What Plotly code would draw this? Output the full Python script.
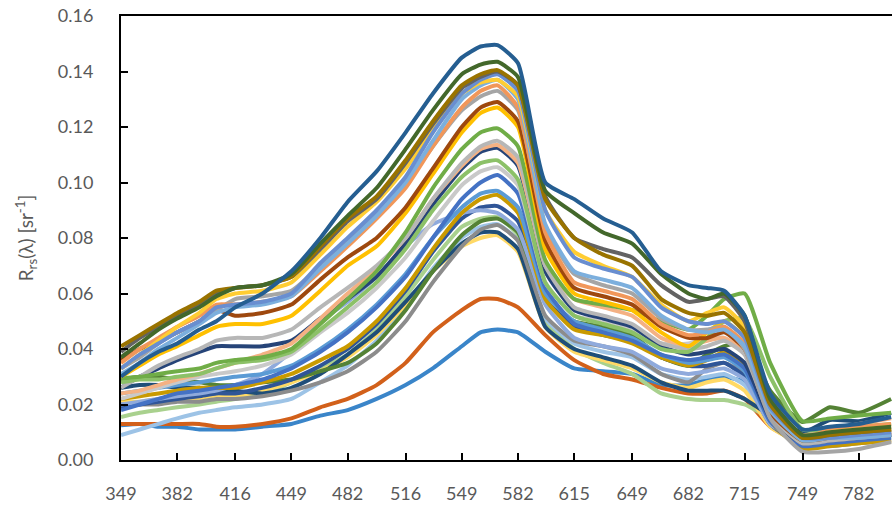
import plotly.graph_objects as go

# wavelength grid (nm)
wavelengths = [349, 360, 371, 382, 395, 405, 416, 432, 449, 466, 482, 499, 516, 532, 549, 560,
               570, 582, 598, 615, 632, 649, 666, 682, 693, 703, 715, 730, 749, 765, 782, 801]

tick_values = [349, 382, 416, 449, 482, 516, 549, 582, 615, 649, 682, 715, 749, 782]
tick_labels = ["349", "382", "416", "449", "482", "516", "549", "582", "615", "649", "682", "715", "749", "782"]
y_ticks = [0.00, 0.02, 0.04, 0.06, 0.08, 0.10, 0.12, 0.14, 0.16]

s01 = [0.030, 0.035, 0.039, 0.042, 0.047, 0.050, 0.055, 0.060, 0.068, 0.080, 0.093, 0.104, 0.118, 0.132, 0.145, 0.149,
       0.1495, 0.143, 0.100, 0.094, 0.087, 0.082, 0.068, 0.063, 0.062, 0.061, 0.052, 0.024, 0.011, 0.012, 0.013, 0.0155]
s02 = [0.037, 0.042, 0.047, 0.051, 0.055, 0.059, 0.062, 0.063, 0.067, 0.078, 0.088, 0.098, 0.112, 0.126, 0.139, 0.1425,
       0.1435, 0.138, 0.097, 0.089, 0.082, 0.078, 0.067, 0.060, 0.058, 0.060, 0.052, 0.022, 0.009, 0.010, 0.011, 0.012]
s03 = [0.041, 0.045, 0.049, 0.053, 0.057, 0.061, 0.062, 0.063, 0.066, 0.077, 0.087, 0.095, 0.108, 0.122, 0.135, 0.139,
       0.1405, 0.135, 0.094, 0.080, 0.074, 0.070, 0.058, 0.053, 0.052, 0.053, 0.046, 0.020, 0.008, 0.009, 0.010, 0.011]
s04 = [0.039, 0.044, 0.048, 0.052, 0.056, 0.060, 0.062, 0.063, 0.066, 0.076, 0.086, 0.094, 0.107, 0.121, 0.134, 0.138,
       0.140, 0.135, 0.095, 0.080, 0.076, 0.073, 0.063, 0.057, 0.058, 0.059, 0.050, 0.021, 0.008, 0.009, 0.010, 0.011]
s05 = [0.033, 0.038, 0.042, 0.046, 0.050, 0.055, 0.056, 0.057, 0.060, 0.071, 0.080, 0.090, 0.102, 0.118, 0.132, 0.137,
       0.139, 0.133, 0.090, 0.073, 0.069, 0.066, 0.055, 0.050, 0.049, 0.050, 0.044, 0.019, 0.008, 0.008, 0.009, 0.010]
s06 = [0.031, 0.035, 0.040, 0.044, 0.049, 0.053, 0.055, 0.056, 0.059, 0.069, 0.078, 0.088, 0.100, 0.115, 0.130, 0.135,
       0.137, 0.130, 0.085, 0.068, 0.065, 0.062, 0.052, 0.047, 0.046, 0.047, 0.041, 0.018, 0.007, 0.008, 0.008, 0.009]
s07 = [0.035, 0.040, 0.044, 0.048, 0.052, 0.056, 0.056, 0.057, 0.059, 0.068, 0.077, 0.087, 0.098, 0.113, 0.127, 0.133,
       0.135, 0.127, 0.082, 0.064, 0.061, 0.058, 0.049, 0.045, 0.046, 0.048, 0.042, 0.019, 0.008, 0.011, 0.012, 0.013]
s08 = [0.033, 0.037, 0.042, 0.046, 0.050, 0.054, 0.058, 0.059, 0.061, 0.070, 0.079, 0.088, 0.099, 0.113, 0.126, 0.131,
       0.133, 0.126, 0.084, 0.067, 0.063, 0.060, 0.051, 0.047, 0.047, 0.048, 0.040, 0.015, 0.003, 0.003, 0.004, 0.0065]
s09 = [0.036, 0.040, 0.043, 0.046, 0.050, 0.054, 0.052, 0.053, 0.056, 0.065, 0.073, 0.080, 0.091, 0.105, 0.120, 0.127,
       0.129, 0.122, 0.079, 0.062, 0.059, 0.056, 0.048, 0.044, 0.044, 0.046, 0.040, 0.017, 0.007, 0.008, 0.009, 0.010]
s10 = [0.030, 0.034, 0.038, 0.041, 0.045, 0.048, 0.049, 0.049, 0.052, 0.061, 0.070, 0.077, 0.089, 0.103, 0.118, 0.125,
       0.127, 0.120, 0.076, 0.060, 0.057, 0.054, 0.046, 0.041, 0.046, 0.050, 0.044, 0.018, 0.007, 0.009, 0.010, 0.011]
s11 = [0.033, 0.038, 0.043, 0.048, 0.053, 0.058, 0.060, 0.061, 0.064, 0.074, 0.084, 0.093, 0.105, 0.119, 0.132, 0.136,
       0.137, 0.131, 0.090, 0.075, 0.070, 0.066, 0.056, 0.050, 0.053, 0.055, 0.048, 0.020, 0.008, 0.010, 0.011, 0.012]
s12 = [0.0295, 0.030, 0.031, 0.032, 0.033, 0.035, 0.036, 0.037, 0.040, 0.049, 0.058, 0.068, 0.082, 0.098, 0.112, 0.118,
       0.1195, 0.113, 0.072, 0.058, 0.056, 0.054, 0.050, 0.047, 0.052, 0.058, 0.060, 0.035, 0.014, 0.015, 0.016, 0.017]
s13 = [0.026, 0.030, 0.034, 0.037, 0.040, 0.043, 0.044, 0.044, 0.047, 0.055, 0.062, 0.070, 0.080, 0.094, 0.107, 0.113,
       0.115, 0.109, 0.070, 0.055, 0.052, 0.049, 0.042, 0.040, 0.041, 0.043, 0.038, 0.016, 0.006, 0.007, 0.008, 0.009]
s14 = [0.024, 0.025, 0.027, 0.029, 0.031, 0.033, 0.035, 0.038, 0.042, 0.051, 0.060, 0.069, 0.080, 0.094, 0.106, 0.112,
       0.1135, 0.107, 0.070, 0.058, 0.055, 0.052, 0.044, 0.041, 0.043, 0.044, 0.039, 0.018, 0.009, 0.011, 0.013, 0.015]
s15 = [0.026, 0.030, 0.033, 0.036, 0.039, 0.041, 0.041, 0.041, 0.043, 0.051, 0.058, 0.066, 0.078, 0.092, 0.105, 0.111,
       0.1125, 0.106, 0.068, 0.054, 0.051, 0.048, 0.041, 0.038, 0.039, 0.040, 0.035, 0.015, 0.006, 0.007, 0.008, 0.009]
s16 = [0.022, 0.024, 0.026, 0.028, 0.030, 0.031, 0.032, 0.034, 0.038, 0.046, 0.053, 0.062, 0.073, 0.086, 0.099, 0.104,
       0.1055, 0.099, 0.064, 0.052, 0.050, 0.047, 0.042, 0.042, 0.044, 0.044, 0.038, 0.016, 0.006, 0.007, 0.008, 0.009]
s17 = [0.018, 0.020, 0.022, 0.024, 0.025, 0.026, 0.027, 0.029, 0.033, 0.039, 0.046, 0.055, 0.066, 0.080, 0.094, 0.100,
       0.1027, 0.096, 0.062, 0.049, 0.046, 0.043, 0.038, 0.036, 0.037, 0.038, 0.033, 0.014, 0.005, 0.006, 0.007, 0.008]
s18 = [0.022, 0.023, 0.024, 0.025, 0.026, 0.026, 0.026, 0.028, 0.031, 0.036, 0.041, 0.050, 0.062, 0.076, 0.089, 0.094,
       0.0955, 0.089, 0.058, 0.047, 0.045, 0.042, 0.037, 0.034, 0.036, 0.039, 0.034, 0.014, 0.004, 0.005, 0.006, 0.007]
s19 = [0.020, 0.021, 0.022, 0.023, 0.024, 0.025, 0.027, 0.031, 0.039, 0.050, 0.057, 0.066, 0.077, 0.085, 0.089, 0.090,
       0.089, 0.083, 0.056, 0.044, 0.041, 0.039, 0.033, 0.031, 0.032, 0.033, 0.029, 0.013, 0.007, 0.008, 0.009, 0.010]
s20 = [0.019, 0.020, 0.021, 0.022, 0.023, 0.024, 0.024, 0.026, 0.029, 0.034, 0.040, 0.049, 0.061, 0.075, 0.087, 0.091,
       0.0915, 0.086, 0.058, 0.048, 0.045, 0.043, 0.037, 0.034, 0.034, 0.035, 0.030, 0.013, 0.006, 0.007, 0.008, 0.009]
s21 = [0.0155, 0.017, 0.018, 0.019, 0.020, 0.021, 0.022, 0.024, 0.028, 0.033, 0.038, 0.047, 0.059, 0.072, 0.084, 0.087,
       0.0875, 0.081, 0.050, 0.040, 0.035, 0.031, 0.024, 0.022, 0.0216, 0.0216, 0.020, 0.015, 0.010, 0.0075, 0.0075, 0.0085]
s22 = [0.029, 0.030, 0.030, 0.029, 0.028, 0.027, 0.027, 0.028, 0.029, 0.032, 0.035, 0.042, 0.054, 0.068, 0.081, 0.086,
       0.087, 0.082, 0.057, 0.050, 0.048, 0.045, 0.037, 0.034, 0.038, 0.041, 0.042, 0.025, 0.0137, 0.019, 0.017, 0.022]
s23 = [0.020, 0.020, 0.020, 0.021, 0.021, 0.022, 0.022, 0.023, 0.025, 0.028, 0.032, 0.039, 0.050, 0.064, 0.077, 0.083,
       0.0847, 0.079, 0.052, 0.043, 0.041, 0.038, 0.031, 0.028, 0.033, 0.035, 0.031, 0.013, 0.005, 0.005, 0.006, 0.007]
s24 = [0.026, 0.027, 0.027, 0.026, 0.026, 0.025, 0.025, 0.024, 0.026, 0.031, 0.038, 0.046, 0.057, 0.068, 0.078, 0.082,
       0.082, 0.076, 0.048, 0.040, 0.037, 0.034, 0.028, 0.025, 0.025, 0.025, 0.022, 0.016, 0.010, 0.0144, 0.014, 0.017]
s25 = [0.021, 0.021, 0.022, 0.022, 0.022, 0.023, 0.023, 0.025, 0.028, 0.032, 0.037, 0.045, 0.056, 0.068, 0.077, 0.080,
       0.081, 0.075, 0.048, 0.039, 0.036, 0.033, 0.028, 0.026, 0.028, 0.029, 0.025, 0.012, 0.006, 0.009, 0.010, 0.011]
s26 = [0.013, 0.013, 0.013, 0.013, 0.013, 0.012, 0.012, 0.013, 0.015, 0.019, 0.022, 0.027, 0.035, 0.046, 0.054, 0.058,
       0.058, 0.055, 0.045, 0.036, 0.031, 0.029, 0.026, 0.024, 0.024, 0.025, 0.022, 0.012, 0.006, 0.007, 0.008, 0.009]
s27 = [0.0125, 0.013, 0.012, 0.012, 0.011, 0.011, 0.011, 0.012, 0.013, 0.016, 0.018, 0.022, 0.027, 0.033, 0.041, 0.046,
       0.047, 0.046, 0.039, 0.033, 0.032, 0.031, 0.027, 0.027, 0.029, 0.030, 0.028, 0.015, 0.007, 0.007, 0.008, 0.009]
s28 = [0.009, 0.011, 0.013, 0.015, 0.017, 0.018, 0.019, 0.020, 0.022, 0.028, 0.034, 0.043, 0.055, 0.069, 0.080, 0.084,
       0.085, 0.079, 0.051, 0.042, 0.039, 0.037, 0.031, 0.029, 0.030, 0.031, 0.027, 0.013, 0.007, 0.009, 0.010, 0.011]
s29 = [0.028, 0.029, 0.029, 0.030, 0.031, 0.033, 0.035, 0.036, 0.039, 0.047, 0.055, 0.064, 0.076, 0.090, 0.102, 0.107,
       0.108, 0.101, 0.064, 0.052, 0.049, 0.046, 0.040, 0.039, 0.044, 0.050, 0.051, 0.030, 0.011, 0.011, 0.012, 0.013]
s30 = [0.024, 0.025, 0.026, 0.027, 0.028, 0.029, 0.030, 0.031, 0.034, 0.040, 0.047, 0.056, 0.067, 0.080, 0.091, 0.096,
       0.097, 0.091, 0.060, 0.050, 0.047, 0.044, 0.038, 0.035, 0.036, 0.037, 0.032, 0.014, 0.006, 0.007, 0.008, 0.009]

series = [s27, s26, s21, s28, s25, s24, s23, s22, s20, s19, s18, s30, s17, s16, s15, s14, s13, s29, s12,
          s10, s09, s08, s07, s06, s11, s05, s04, s03, s02, s01]
colors = ["#3A85C9", "#D2601A", "#A9D18E", "#9DC3E6", "#FFD966", "#1F4E79", "#8C8C8C", "#548235", "#2F5597", "#8FAADC",
          "#C99A00", "#5B9BD5", "#4472C4", "#C9C9C9", "#264478", "#F4B183", "#B7B7B7", "#8CC168", "#70AD47",
          "#FFC000", "#9E480E", "#A5A5A5", "#F1975A", "#7CAFDD", "#FFCD33", "#698ED0", "#636363", "#997300",
          "#43682B", "#255E91"]

fig = go.Figure()
for vals, col in zip(series, colors):
    fig.add_trace(go.Scatter(x=wavelengths, y=vals, mode="lines",
                             line=dict(color=col, width=4, shape="spline", smoothing=0.5),
                             showlegend=False, hoverinfo="skip"))

font_family = "Lato, 'Open Sans', sans-serif"
fig.update_layout(
    width=892, height=507,
    margin=dict(l=121, r=0, t=16, b=47),
    paper_bgcolor="white", plot_bgcolor="white",
    font=dict(family=font_family, size=18, color="#595959"),
    xaxis=dict(range=[349, 801.5], tickmode="array", tickvals=tick_values, ticktext=tick_labels,
               showgrid=False, zeroline=False, showline=True, linecolor="black", linewidth=2,
               mirror=True, ticks="inside", ticklen=7, tickwidth=2, tickcolor="black",
               ticklabelstandoff=16),
    yaxis=dict(range=[0, 0.16], tickmode="array", tickvals=y_ticks, tickformat=".2f",
               showgrid=False, zeroline=False, showline=True, linecolor="black", linewidth=2,
               mirror=False, ticks="inside", ticklen=7, tickwidth=2, tickcolor="black",
               ticklabelstandoff=22,
               title=dict(text="R<sub>rs</sub>(λ) [sr<sup>-1</sup>]", standoff=19,
                          font=dict(size=19, color="#595959"))),
)

fig.write_html("out.html")
